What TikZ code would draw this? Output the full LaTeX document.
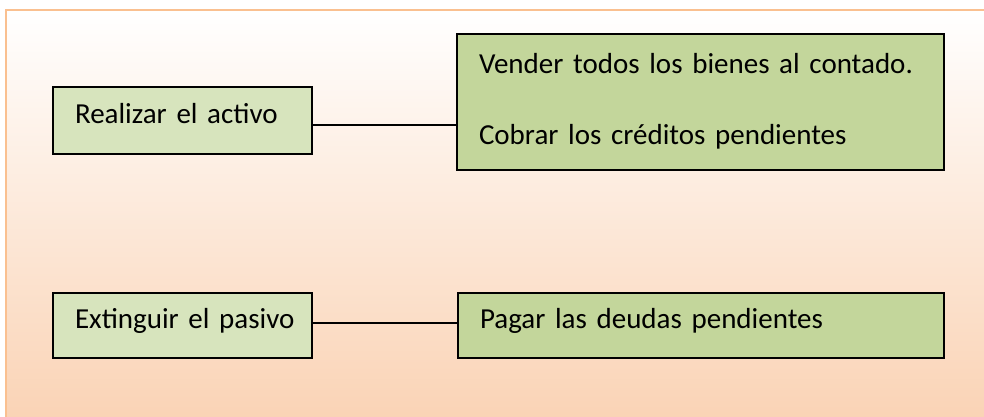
\documentclass[tikz,border=0pt]{standalone}
\usepackage{fontspec}
\setmainfont{Carlito}
\definecolor{frameorange}{HTML}{FAC090}
\definecolor{peach}{HTML}{FAD3B5}
\definecolor{lightgreen}{HTML}{D7E4BD}
\definecolor{midgreen}{HTML}{C3D69B}
\tikzset{
  box/.style={draw=black, line width=2pt, anchor=north west, inner ysep=0pt, inner xsep=22pt,
    font=\fontsize{29}{34.8}\selectfont, text height=0.75em, text depth=0.14em, align=left},
  boxleft/.style={box, fill=lightgreen, text width=215pt, minimum width=259pt},
  boxright/.style={box, fill=midgreen},
  link/.style={draw=black, line width=1.8pt}
}
\begin{document}
\begin{tikzpicture}[x=1pt,y=-1pt]
\useasboundingbox (0,0) rectangle (984,416);
\clip (0,0) rectangle (984,416);
% background frame
\shade[top color=white, bottom color=peach] (6,10) rectangle (990,420);
\draw[frameorange, line width=2.5pt] (6,422) -- (6,10) -- (990,10);
% boxes
\node[boxleft, minimum height=67pt]
  (b1) at (52,86) {\mbox{Realizar el activo}};
\node[boxright, minimum width=487pt, minimum height=136pt, text width=443pt,
  text height=, text depth=]
  (b2) at (456,33) {\mbox{Vender todos los bienes al contado.}\\[36pt]\mbox{Cobrar los créditos pendientes}\vspace{2pt}};
\node[boxleft, minimum height=65pt]
  (b3) at (52,292) {\mbox{Extinguir el pasivo}};
\node[boxright, minimum width=486pt, minimum height=65pt, text width=442pt]
  (b4) at (457,292) {\mbox{Pagar las deudas pendientes}};
% connectors
\draw[link] ([yshift=-4.5pt]b1.east) -- ([yshift=-4.5pt]b1.east -| b2.west);
\draw[link] ([yshift=2.5pt]b3.east) -- ([yshift=2.5pt]b3.east -| b4.west);
\end{tikzpicture}
\end{document}
